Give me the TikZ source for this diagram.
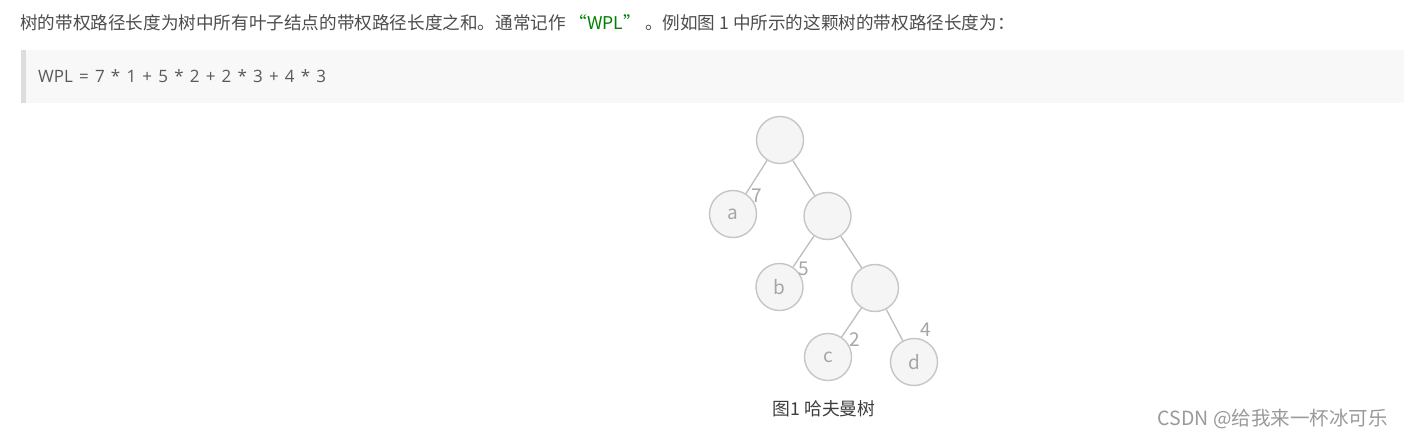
\documentclass[tikz,border=0pt]{standalone}
\usepackage{fontspec}
\setmainfont{Noto Sans CJK SC}
\newfontfamily\csdnLatin[WordSpace=1.4]{Open Sans}
\usetikzlibrary{positioning}
\definecolor{csdnText}{HTML}{4D4D4D}
\definecolor{csdnGreen}{HTML}{008000}
\definecolor{csdnQuote}{HTML}{F8F8F8}
\definecolor{csdnBar}{HTML}{DDDDDD}
\definecolor{csdnQuoteText}{HTML}{595959}
\definecolor{hfRing}{HTML}{C6C6C6}
\definecolor{hfFill}{HTML}{F5F5F5}
\definecolor{hfEdgeGray}{HTML}{BDBDBD}
\definecolor{hfLabel}{HTML}{A6A6A6}
\definecolor{csdnMark}{HTML}{9A9A9A}
\tikzset{
  csdnLine/.style={anchor=west, inner sep=0pt, text=csdnText, font=\fontsize{17.6}{18}\selectfont},
  hfNode/.style={
    circle,
    draw=hfRing,
    fill=hfFill,
    line width=1.4pt,
    minimum size=47pt,
    inner sep=0pt,
    text=hfLabel,
    font=\fontsize{19}{19}\selectfont
  },
  hfEdge/.style={draw=hfEdgeGray, line width=1.3pt},
  hfWeight/.style={inner sep=0pt, text=hfLabel, font=\fontsize{19}{19}\selectfont},
  hfCaption/.style={inner sep=0pt, text=csdnText!80!black, font=\fontsize{17.8}{18}\selectfont}
}
\begin{document}
\begin{tikzpicture}[x=1pt, y=-1pt]
  \useasboundingbox (0,0) rectangle (1404,439);
  \fill[white] (0,0) rectangle (1404,439);

  % text above the figure
  \node[csdnLine] (intro) at (20,23)
    {树的带权路径长度为树中所有叶子结点的带权路径长度之和。通常记作 \textcolor{csdnGreen}{“WPL”} 。例如图 1 中所示的这颗树的带权路径长度为：};
  \fill[csdnQuote] (22,50) rectangle (1404,103);
  \fill[csdnBar] (21,50) rectangle (26,103);
  \node[csdnLine, text=csdnQuoteText, font=\csdnLatin\fontsize{17}{18}\selectfont] (formula) at (38,76) {WPL = 7 * 1 + 5 * 2 + 2 * 3 + 4 * 3};

  % tree
  \node[hfNode] (root) at (780,140) {};
  \node[hfNode] (a) at (733,214) {a};
  \node[hfNode] (n1) at (827.5,216) {};
  \node[hfNode] (b) at (779.5,287) {b};
  \node[hfNode] (n2) at (875,288) {};
  \node[hfNode] (c) at (828,357) {c};
  \node[hfNode] (d) at (914,362) {d};

  \draw[hfEdge] (root) -- (a) node[hfWeight, pos=1, xshift=11pt, yshift=-2pt] (w7) {7};
  \draw[hfEdge] (root) -- (n1);
  \draw[hfEdge] (n1) -- (b) node[hfWeight, pos=1, xshift=11pt, yshift=-1.5pt] (w5) {5};
  \draw[hfEdge] (n1) -- (n2);
  \draw[hfEdge] (n2) -- (c) node[hfWeight, pos=1, xshift=13pt, yshift=-2.5pt] (w2) {2};
  \draw[hfEdge] (n2) -- (d) node[hfWeight, pos=1, xshift=23pt, yshift=11pt] (w4) {4};

  \node[hfCaption] (caption) at (824,409) {图1 哈夫曼树};
  \node[anchor=east, inner sep=0pt, text=csdnMark, font=\fontsize{19.5}{20}\selectfont] (mark) at (1388,419) {CSDN @给我来一杯冰可乐};
\end{tikzpicture}
\end{document}
